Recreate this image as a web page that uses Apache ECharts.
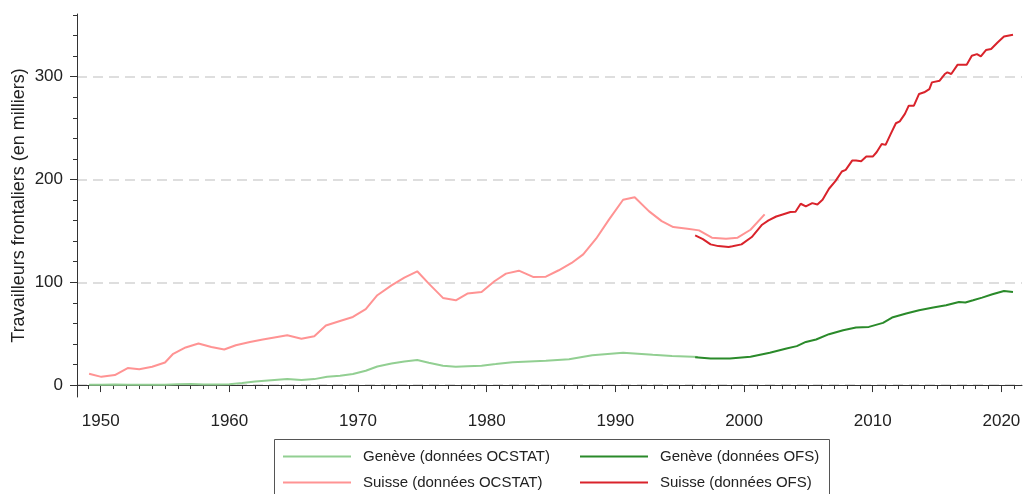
<!DOCTYPE html>
<html>
<head>
<meta charset="utf-8">
<script src="https://cdn.jsdelivr.net/npm/echarts@6/dist/echarts.min.js"></script>
<style>
  html, body { margin: 0; padding: 0; background: #fff; }
  #chart { width: 1024px; height: 494px; }
</style>
</head>
<body>
<div id="chart"></div>
<script>
// tick labels
const xMajorTicks = [1950, 1960, 1970, 1980, 1990, 2000, 2010, 2020];
const yMajorTicks = [0, 100, 200, 300];

// Genève (données OCSTAT)
const geOcstatYears = [1949.1, 1950.1, 1951.1, 1952.1, 1953.0, 1954.0, 1955.0, 1956.0, 1957.0, 1958.0, 1959.0, 1960.0, 1961.0, 1962.0, 1963.5, 1964.5, 1965.6, 1966.6, 1967.6, 1968.6, 1969.6, 1970.6, 1971.5, 1972.6, 1973.6, 1974.6, 1975.5, 1976.6, 1977.6, 1978.5, 1979.6, 1980.7, 1982.0, 1984.6, 1986.4, 1988.2, 1990.6, 1992.9, 1994.4, 1996.0, 1996.4];
const geOcstatValues = [0.3, 0.3, 0.5, 0.3, 0.2, 0.2, 0.3, 0.8, 1.0, 0.6, 0.5, 0.8, 2.0, 3.4, 4.9, 5.8, 4.9, 5.8, 8.1, 9.0, 10.7, 13.9, 18.1, 21.0, 23.0, 24.3, 21.7, 18.8, 17.8, 18.4, 18.8, 20.4, 22.3, 23.6, 25.2, 29.1, 31.4, 29.4, 28.2, 27.5, 27.2];

// Suisse (données OCSTAT)
const chOcstatYears = [1949.1, 1950.05, 1951.1, 1952.1, 1953.0, 1954.0, 1955.0, 1955.6, 1956.6, 1957.6, 1958.6, 1959.6, 1960.5, 1961.6, 1962.6, 1963.5, 1964.5, 1965.6, 1966.6, 1967.5, 1968.6, 1969.6, 1970.6, 1971.5, 1972.6, 1973.6, 1974.6, 1975.5, 1976.6, 1977.6, 1978.5, 1979.6, 1980.6, 1981.5, 1982.5, 1983.6, 1984.6, 1985.6, 1986.6, 1987.5, 1988.5, 1989.5, 1990.6, 1991.5, 1992.6, 1993.6, 1994.5, 1995.6, 1996.5, 1997.5, 1998.6, 1999.5, 2000.5, 2001.6];
const chOcstatValues = [11, 8, 9.7, 16.5, 15.5, 17.8, 22, 30, 36.6, 40.5, 37, 34.6, 38.8, 42, 44.3, 46.3, 48.5, 45, 47.6, 58, 62.4, 66.3, 73.8, 87.4, 97, 104.5, 110.7, 98.7, 84.8, 82.5, 89, 90.6, 101, 108.4, 111.3, 105.2, 105.5, 111.7, 118.8, 127.2, 142.4, 160.9, 180.3, 182.8, 169.2, 159.5, 153.7, 152.1, 150.5, 143.4, 142.4, 143.4, 151.1, 166];

// Genève (données OFS)
const geOfsYears = [1996.2, 1997.4, 1998.9, 2000.5, 2002.0, 2003.3, 2004.1, 2004.8, 2005.6, 2006.6, 2007.7, 2008.7, 2009.7, 2010.8, 2011.5, 2012.6, 2013.6, 2014.7, 2015.7, 2016.7, 2017.2, 2017.8, 2018.5, 2019.3, 2020.2, 2020.9];
const geOfsValues = [27, 25.9, 25.9, 27.5, 31.4, 35.6, 37.9, 42, 44.3, 49.5, 53.4, 56, 56.6, 60.5, 65.7, 69.6, 72.8, 75.4, 77.7, 80.9, 80.3, 82.5, 85.1, 88.3, 91.6, 90.6];

// Suisse (données OFS)
const chOfsYears = [1996.2, 1996.8, 1997.4, 1998.0, 1998.8, 1999.1, 1999.8, 2000.6, 2001.4, 2001.9, 2002.5, 2003.0, 2003.6, 2004.0, 2004.4, 2004.8, 2005.3, 2005.7, 2006.1, 2006.6, 2007.1, 2007.6, 2007.9, 2008.4, 2008.7, 2009.1, 2009.5, 2010.0, 2010.3, 2010.7, 2011.0, 2011.4, 2011.8, 2012.1, 2012.5, 2012.8, 2013.2, 2013.6, 2014.0, 2014.4, 2014.6, 2015.2, 2015.6, 2015.8, 2016.1, 2016.6, 2017.3, 2017.7, 2018.1, 2018.4, 2018.8, 2019.2, 2019.7, 2020.2, 2020.9];
const chOfsValues = [145.6, 142, 136.9, 135.2, 134.3, 135.0, 136.9, 144, 156, 160.2, 164, 166, 168.3, 168.6, 176.4, 173.8, 177, 175.7, 180.3, 191, 198.4, 207.8, 209.4, 218.4, 218.4, 217.8, 222.3, 222.3, 226.5, 234.6, 233.7, 244.4, 254.7, 256.6, 263.8, 271.8, 271.8, 283.2, 284.8, 288, 294.5, 296.1, 302.6, 304.2, 302.6, 311.7, 311.7, 320.4, 322, 319.7, 325.9, 326.9, 333.3, 339.1, 340.8];

const xMinorTicks = [];
for (let y = 1949; y <= 2021; y++) xMinorTicks.push(y);
const yMinorTicks = [];
for (let v = 0; v <= 360; v += 20) yMinorTicks.push(v);

const pairs = (xs, ys) => xs.map((x, i) => [x, ys[i]]);

const FONT = 'Liberation Sans, Arial, sans-serif';
const xMin = 1948.16, xMax = 2021.6;
const yMin = -11.6, yMax = 361;

const lineSeries = (name, xs, ys, color, z) => ({
    name: name,
    type: 'line',
    data: pairs(xs, ys),
    showSymbol: false,
    symbol: 'none',
    smooth: false,
    z: z,
    lineStyle: { color: color, width: 2 },
    itemStyle: { color: color }
});

const legendBase = {
    orient: 'vertical', top: 449, padding: 0,
    icon: 'rect', itemWidth: 68, itemHeight: 2, itemGap: 11,
    textStyle: { fontSize: 15, color: '#222', fontFamily: FONT, padding: [0, 0, 0, 7] }
};

const chart = echarts.init(document.getElementById('chart'));
chart.setOption({
    animation: false,
    textStyle: { fontFamily: FONT },
    grid: { left: 77, right: 2, top: 14, bottom: 97, containLabel: false, outerBoundsMode: 'none' },
    xAxis: [
        {
            type: 'value', min: xMin, max: xMax,
            axisLine: { lineStyle: { color: '#333', width: 1 } },
            axisTick: { customValues: xMajorTicks, length: 7, lineStyle: { color: '#333' } },
            axisLabel: { customValues: xMajorTicks, fontSize: 17, color: '#222', margin: 16, fontFamily: FONT, formatter: v => String(v) },
            splitLine: { show: false }
        },
        {
            type: 'value', min: xMin, max: xMax, position: 'bottom',
            axisLine: { show: false },
            axisTick: { customValues: xMinorTicks, length: 4, lineStyle: { color: '#333' } },
            axisLabel: { show: false },
            splitLine: { show: false }
        }
    ],
    yAxis: [
        {
            type: 'value', min: yMin, max: yMax,
            name: 'Travailleurs frontaliers (en milliers)',
            nameLocation: 'middle', nameGap: 49, nameMoveOverlap: false,
            nameTextStyle: { fontSize: 18, color: '#222', fontFamily: FONT },
            axisLine: { show: true, lineStyle: { color: '#333', width: 1 } },
            axisTick: { show: true, customValues: yMajorTicks, length: 7, lineStyle: { color: '#333' } },
            axisLabel: { customValues: yMajorTicks, fontSize: 17, color: '#222', margin: 14, fontFamily: FONT, formatter: v => String(v) },
            splitLine: { show: true, lineStyle: { color: '#d4d4d4', width: 1.5, type: [10, 6] } }
        },
        {
            type: 'value', min: yMin, max: yMax, position: 'left',
            axisLine: { show: false },
            axisTick: { show: true, customValues: yMinorTicks, length: 4, lineStyle: { color: '#333' } },
            axisLabel: { show: false },
            splitLine: { show: false }
        }
    ],
    legend: [
        Object.assign({}, legendBase, {
            left: 283,
            data: ['Genève (données OCSTAT)', 'Suisse (données OCSTAT)']
        }),
        Object.assign({}, legendBase, {
            left: 580,
            data: ['Genève (données OFS)', 'Suisse (données OFS)']
        })
    ],
    graphic: [
        {
            type: 'rect', silent: true,
            shape: { x: 274.5, y: 439.5, width: 555, height: 70 },
            style: { fill: 'none', stroke: '#555', lineWidth: 1 }
        }
    ],
    series: [
        lineSeries('Genève (données OCSTAT)', geOcstatYears, geOcstatValues, '#92cf92', 2),
        lineSeries('Suisse (données OCSTAT)', chOcstatYears, chOcstatValues, '#ff9393', 2),
        lineSeries('Genève (données OFS)', geOfsYears, geOfsValues, '#2a8a2a', 3),
        lineSeries('Suisse (données OFS)', chOfsYears, chOfsValues, '#d9232b', 3)
    ]
});
</script>
</body>
</html>
